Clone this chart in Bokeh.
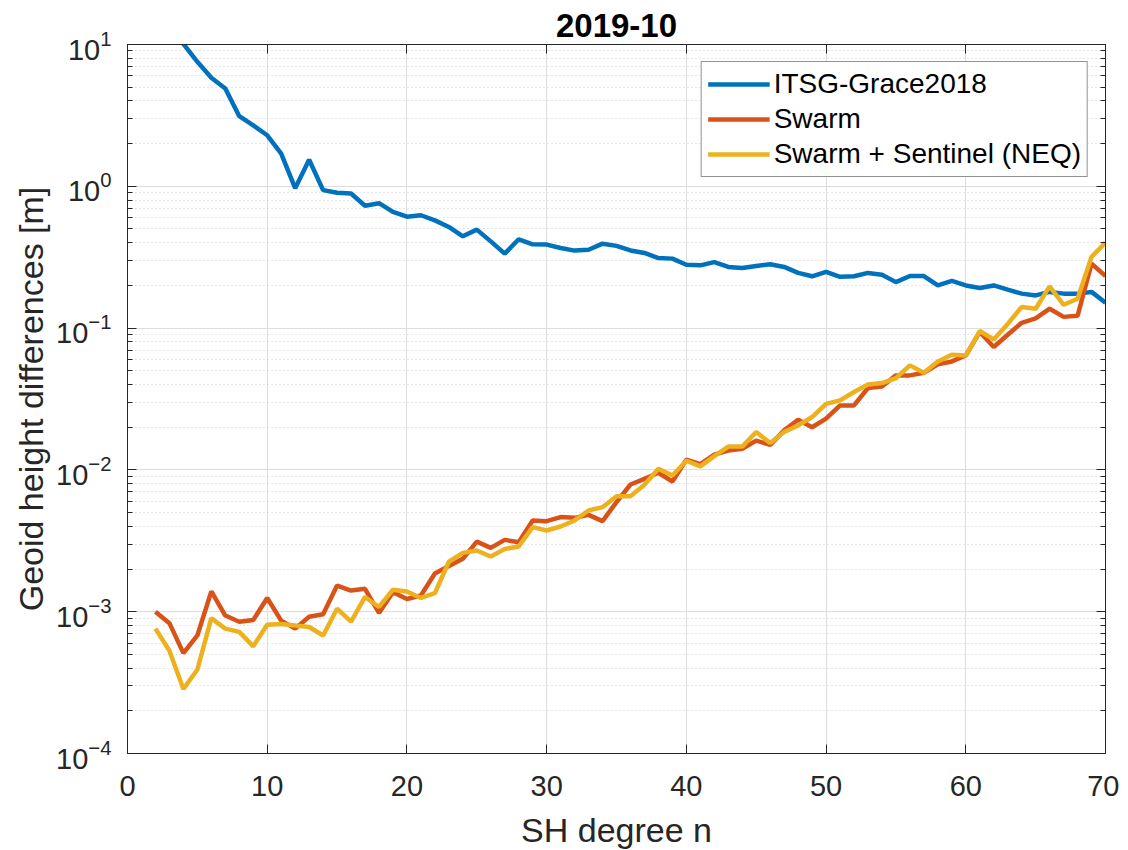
from bokeh.plotting import figure
from bokeh.models import (LinearAxis, LogAxis, SingleIntervalTicker, LogTicker, Range1d,
                          CustomJSTickFormatter)
from bokeh.embed import file_html
from bokeh.resources import INLINE

# ---------------- data ----------------
degrees = list(range(2, 71))

itsg_grace2018 = [30.0, 16.0, 10.1, 7.55, 5.82, 4.89, 3.12, 2.69, 2.29, 1.70,
                  0.97, 1.54, 0.94, 0.90, 0.89, 0.73, 0.76, 0.66, 0.61, 0.625,
                  0.575, 0.517, 0.444, 0.495, 0.409, 0.335, 0.423, 0.39, 0.388, 0.367,
                  0.352, 0.357, 0.394, 0.38, 0.353, 0.339, 0.312, 0.309, 0.28, 0.277,
                  0.292, 0.27, 0.265, 0.274, 0.282, 0.27, 0.245, 0.232, 0.249, 0.23,
                  0.232, 0.245, 0.238, 0.211, 0.233, 0.233, 0.2, 0.215, 0.2, 0.192,
                  0.2, 0.187, 0.175, 0.17, 0.18, 0.175, 0.175, 0.18, 0.151]

swarm = [1.0e-3, 8.3e-4, 5.1e-4, 6.8e-4, 1.39e-3, 9.4e-4, 8.5e-4, 8.75e-4, 1.25e-3, 8.65e-4,
         7.6e-4, 9.2e-4, 9.6e-4, 1.53e-3, 1.41e-3, 1.45e-3, 9.8e-4, 1.37e-3, 1.23e-3, 1.3e-3,
         1.86e-3, 2.1e-3, 2.36e-3, 3.12e-3, 2.82e-3, 3.21e-3, 3.09e-3, 4.4e-3, 4.35e-3, 4.65e-3,
         4.59e-3, 4.82e-3, 4.35e-3, 5.93e-3, 7.89e-3, 8.65e-3, 9.55e-3, 8.28e-3, 1.18e-2, 1.1e-2,
         1.28e-2, 1.37e-2, 1.41e-2, 1.61e-2, 1.5e-2, 1.9e-2, 2.26e-2, 2.0e-2, 2.3e-2, 2.85e-2,
         2.85e-2, 3.78e-2, 3.88e-2, 4.64e-2, 4.64e-2, 4.84e-2, 5.55e-2, 5.82e-2, 6.41e-2, 9.4e-2,
         7.36e-2, 8.98e-2, 0.109, 0.117, 0.137, 0.12, 0.122, 0.285, 0.233]

swarm_sentinel = [7.6e-4, 5.3e-4, 2.85e-4, 3.9e-4, 9.0e-4, 7.6e-4, 7.2e-4, 5.7e-4, 8.1e-4, 8.2e-4,
                  8.0e-4, 7.8e-4, 6.8e-4, 1.05e-3, 8.5e-4, 1.27e-3, 1.08e-3, 1.43e-3, 1.39e-3, 1.25e-3,
                  1.35e-3, 2.25e-3, 2.6e-3, 2.7e-3, 2.45e-3, 2.77e-3, 2.88e-3, 3.95e-3, 3.74e-3, 3.99e-3,
                  4.4e-3, 5.17e-3, 5.46e-3, 6.53e-3, 6.53e-3, 7.85e-3, 1.02e-2, 9.13e-3, 1.16e-2, 1.06e-2,
                  1.25e-2, 1.46e-2, 1.46e-2, 1.85e-2, 1.55e-2, 1.85e-2, 2.06e-2, 2.36e-2, 2.92e-2, 3.09e-2,
                  3.54e-2, 4.0e-2, 4.1e-2, 4.44e-2, 5.46e-2, 4.84e-2, 5.82e-2, 6.49e-2, 6.4e-2, 9.54e-2,
                  8.32e-2, 0.107, 0.141, 0.137, 0.197, 0.146, 0.161, 0.318, 0.401]

series_names = ["ITSG-Grace2018", "Swarm", "Swarm + Sentinel (NEQ)"]
series_colors = ["#0072BD", "#D95319", "#EDB120"]

x_min, x_max = 0, 70
y_min, y_max = 1e-4, 10
x_ticks_interval = 10
title_text = "2019-10"
x_label = "SH degree n"
y_label = "Geoid height differences [m]"

FONT = "Liberation Sans"
AX = "#262626"

p = figure(frame_width=978, frame_height=709, y_axis_type="log",
           x_range=Range1d(x_min, x_max), y_range=Range1d(y_min, y_max),
           output_backend="svg", toolbar_location=None,
           min_border_left=127, min_border_right=14, min_border_top=44, min_border_bottom=96,
           background_fill_color="white", border_fill_color="white")

p.title.text = title_text
p.title.text_font = FONT
p.title.text_font_size = "33px"
p.title.text_font_style = "bold"
p.title.text_color = "black"
p.title.align = "center"
p.title.standoff = 16

for vals, name, col in zip([itsg_grace2018, swarm, swarm_sentinel], series_names, series_colors):
    p.line(degrees, vals, line_color=col, line_width=4.5, legend_label=name)

xt = SingleIntervalTicker(interval=x_ticks_interval, num_minor_ticks=0)
yt = LogTicker(num_minor_ticks=10)

def style_axis(ax):
    ax.axis_line_color = AX
    ax.major_tick_line_color = AX
    ax.minor_tick_line_color = AX
    ax.major_tick_in = 9
    ax.major_tick_out = 0
    ax.minor_tick_in = 5
    ax.minor_tick_out = 0
    ax.major_label_text_font = FONT
    ax.major_label_text_color = AX
    ax.axis_label_text_font = FONT
    ax.axis_label_text_color = AX
    ax.axis_label_text_font_style = "normal"

xa = p.xaxis[0]
xa.ticker = xt
style_axis(xa)
xa.major_label_text_font_size = "29px"
xa.major_label_standoff = 22
xa.axis_label = x_label
xa.axis_label_text_font_size = "34px"
xa.axis_label_standoff = 12

ya = p.yaxis[0]
ya.ticker = yt
style_axis(ya)
ya.major_label_text_font_size = "29px"
ya.major_label_standoff = 16
ya.axis_label = y_label
ya.axis_label_text_font_size = "34px"
ya.axis_label_standoff = 3

top = LinearAxis(ticker=xt, formatter=CustomJSTickFormatter(code="return '';"))
style_axis(top)
top.major_label_standoff = 0
top.major_label_text_font_size = "2px"
p.add_layout(top, "above")
right = LogAxis(ticker=yt, formatter=CustomJSTickFormatter(code="return '';"))
style_axis(right)
right.major_label_standoff = 0
right.major_label_text_font_size = "2px"
p.add_layout(right, "right")

p.xgrid.ticker = xt
p.ygrid.ticker = yt
p.xgrid.grid_line_color = "#dedede"
p.ygrid.grid_line_color = "#dedede"
p.ygrid.minor_grid_line_color = "#cfcfcf"
p.ygrid.minor_grid_line_dash = "1 3"
p.outline_line_color = AX

leg = p.legend[0]
leg.location = "top_right"
leg.margin = 17
leg.padding = 6
leg.spacing = 3
leg.label_text_font = FONT
leg.label_text_font_size = "28px"
leg.label_text_color = "black"
leg.glyph_width = 62
leg.glyph_height = 30
leg.label_height = 30
leg.label_standoff = 4
leg.border_line_color = AX
leg.border_line_width = 1
leg.background_fill_alpha = 1.0

open("out.html", "w").write(file_html(p, INLINE))
